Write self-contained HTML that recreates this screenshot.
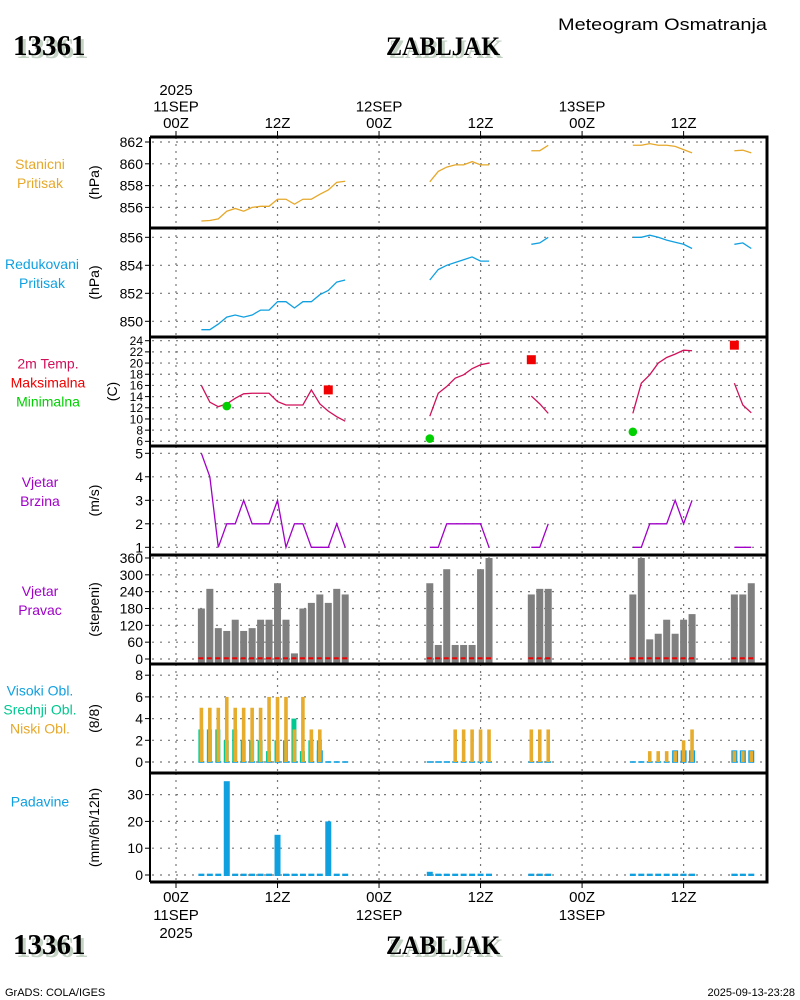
<!DOCTYPE html>
<html><head><meta charset="utf-8"><style>
html,body{margin:0;padding:0;background:#fff}
svg{display:block}
text{font-family:"Liberation Sans",sans-serif}
.tk{font-size:14px;fill:#000}
.ttl{font-family:"Liberation Serif",serif;font-weight:bold;font-size:29px}
.ttl2{font-family:"Liberation Serif",serif;font-weight:bold;font-size:26px}
</style></head><body>
<svg id="chart" width="800" height="1000" viewBox="0 0 800 1000" xmlns="http://www.w3.org/2000/svg">
<rect width="800" height="1000" fill="#fff"/>
<text x="558" y="30" font-size="17" textLength="209" lengthAdjust="spacingAndGlyphs">Meteogram Osmatranja</text>
<g>
<text class="ttl" x="16" y="58" fill="#c4d2c4">13361</text><text class="ttl" x="13" y="55">13361</text>
<text class="ttl2" x="389" y="58" fill="#c4d2c4" textLength="114" lengthAdjust="spacingAndGlyphs">ZABLJAK</text><text class="ttl2" x="386" y="55" textLength="114" lengthAdjust="spacingAndGlyphs">ZABLJAK</text>
</g>
<g>
<text class="ttl" x="16" y="957" fill="#c4d2c4">13361</text><text class="ttl" x="13" y="954">13361</text>
<text class="ttl2" x="389" y="957" fill="#c4d2c4" textLength="114" lengthAdjust="spacingAndGlyphs">ZABLJAK</text><text class="ttl2" x="386" y="954" textLength="114" lengthAdjust="spacingAndGlyphs">ZABLJAK</text>
</g>
<text x="5" y="996" font-size="11">GrADS: COLA/IGES</text>
<text x="795" y="996" font-size="11" text-anchor="end">2025-09-13-23:28</text>
<g id="panels"></g>
</svg>
<script>
const hours = [3,4,5,6,7,8,9,10,11,12,13,14,15,16,17,18,19,20, 30,31,32,33,34,35,36,37, 42,43,44, 54,55,56,57,58,59,60,61, 66,67,68];
const stationPressure = [854.75,854.8,854.95,855.65,855.9,855.65,856.0,856.1,856.1,856.75,856.75,856.3,856.75,856.75,857.2,857.6,858.3,858.4, 858.35,859.3,859.7,859.9,859.9,860.2,859.9,859.9, 861.2,861.2,861.7, 861.7,861.7,861.85,861.7,861.7,861.6,861.3,861.0, 861.2,861.25,861.0];
const reducedPressure = [849.4,849.4,849.8,850.3,850.45,850.3,850.45,850.8,850.8,851.4,851.4,850.95,851.4,851.4,851.9,852.2,852.8,852.95, 852.95,853.7,854.0,854.2,854.4,854.6,854.3,854.3, 855.5,855.6,856.0, 856.0,856.0,856.15,856.0,855.8,855.65,855.5,855.2, 855.5,855.6,855.2];
const temperature = [16,13,12.2,12.7,13.7,14.5,14.6,14.6,14.6,13.1,12.5,12.5,12.5,15.2,12.7,11.4,10.4,9.6, 10.5,14.6,15.8,17.3,17.9,19,19.7,20, 14.1,12.7,11, 11,16.4,17.9,20,21,21.6,22.3,22.2, 16.4,12.5,11.1];
const maxTempHours = [18,42,66];
const maxTempValues = [15.2,20.6,23.2];
const minTempHours = [6,30,54];
const minTempValues = [12.3,6.5,7.7];
const windSpeed = [5,4,1,2,2,3,2,2,2,3,1,2,2,1,1,1,2,1, 1,1,2,2,2,2,2,1, 1,1,2, 1,1,2,2,2,3,2,3, 1,1,1];
const windDir = [180,250,110,100,140,100,110,140,140,270,140,20,180,200,230,200,250,230, 270,50,320,50,50,50,320,360, 230,250,250, 230,360,70,90,140,90,140,160, 230,230,270];
const calmMarker = [2.5,2.5,2.5,2.5,2.5,2.5,2.5,2.5,2.5,2.5,2.5,2.5,2.5,2.5,2.5,2.5,2.5,2.5, 2.5,2.5,2.5,2.5,2.5,2.5,2.5,2.5, 2.5,2.5,2.5, 2.5,2.5,2.5,2.5,2.5,2.5,2.5,2.5, 2.5,2.5,2.5];
const lowCloud = [5,5,5,6,5,5,5,5,6,6,6,3,6,3,3,0,0,0, 0,0,0,3,3,3,3,3, 3,3,3, 0,0,1,1,1,1,2,3, 1,1,1];
const midCloud = [3,3,3,2,3,2,2,2,1,2,2,4,1,2,2,0,0,0, 0,0,0,0,0,0,0,0, 0,0,0, 0,0,0,0,0,0,0,0, 0,0,0];
const highCloud = [0,0,0,0,0,0,0,0,0,0,0,0,0,0,1,0,0,0, 0,0,0,0,0,0,0,0, 0,0,0, 0,0,0,0,0,1,1,1, 1,1,1];
const precip = [0,0,0,35,0,0,0,0,0,15,0,0,0,0,0,20,0,0, 1.2,0,0,0,0,0,0,0, 0,0,0, 0,0,0,0,0,0,0,0, 0,0,0];
const p1Ticks = [862,860,858,856];
const p2Ticks = [856,854,852,850];
const p3Ticks = [24,22,20,18,16,14,12,10,8,6];
const p4Ticks = [5,4,3,2,1];
const p5Ticks = [360,300,240,180,120,60,0];
const p6Ticks = [8,6,4,2,0];
const p7Ticks = [30,20,10,0];
const timeTickHours = [0,12,24,36,48,60];
const timeTop = [["2025","11SEP","00Z"],["12Z"],["12SEP","00Z"],["12Z"],["13SEP","00Z"],["12Z"]];
const timeBottom = [["00Z","11SEP","2025"],["12Z"],["00Z","12SEP"],["12Z"],["00Z","13SEP"],["12Z"]];

const NS="http://www.w3.org/2000/svg";
const root=document.getElementById('panels');
const L=150,R=767;
function mk(tag,attrs,parent){const e=document.createElementNS(NS,tag);for(const k in attrs)e.setAttribute(k,attrs[k]);(parent||root).appendChild(e);return e;}
const xOf=h=>176+h*8.46;
const y1=v=>142+(862-v)*10.9;
const y2=v=>237.3+(856-v)*14;
const y3=v=>340.7+(24-v)*5.59;
const y4=v=>453.3+(5-v)*23.5;
const y5=v=>659-v*0.2806;
const y6=v=>762-v*10.85;
const y7=v=>875-v*2.68;

const panels=[
 {name:'station-pressure',top:137,bot:228,ticks:p1Ticks,y:y1,unit:'(hPa)',labels:[['Stanicni','#e6a82a'],['Pritisak','#e6a82a']]},
 {name:'reduced-pressure',top:228,bot:337,ticks:p2Ticks,y:y2,unit:'(hPa)',labels:[['Redukovani','#10a0e0'],['Pritisak','#10a0e0']]},
 {name:'temperature',top:337,bot:446,ticks:p3Ticks,y:y3,unit:'(C)',labels:[['2m Temp.','#d0105a'],['Maksimalna','#f00000'],['Minimalna','#00d000']],fs:12},
 {name:'wind-speed',top:446,bot:555,ticks:p4Ticks,y:y4,unit:'(m/s)',labels:[['Vjetar','#a000c8'],['Brzina','#a000c8']]},
 {name:'wind-direction',top:555,bot:664,ticks:p5Ticks,y:y5,unit:'(stepeni)',labels:[['Vjetar','#a000c8'],['Pravac','#a000c8']]},
 {name:'cloud-cover',top:664,bot:773,ticks:p6Ticks,y:y6,unit:'(8/8)',labels:[['Visoki Obl.','#10a0e0'],['Srednji Obl.','#00c890'],['Niski Obl.','#e6a82a']]},
 {name:'precipitation',top:773,bot:882,ticks:p7Ticks,y:y7,unit:'(mm/6h/12h)',labels:[['Padavine','#10a0e0']]}
];
panels.forEach((p,pi)=>{
 const g=mk('g',{});
 
 
 timeTickHours.forEach(h=>{const l=mk('line',{x1:xOf(h),x2:xOf(h),y1:p.top,y2:p.bot,stroke:'#777','stroke-width':1.2,'stroke-dasharray':'2,5'},g);
  
  });
 const fs=p.fs||14;
 p.ticks.forEach(t=>{const yy=p.y(t);
  const l=mk('line',{x1:L+2,x2:R,y1:yy,y2:yy,stroke:'#777','stroke-width':1.2,'stroke-dasharray':'2,6'},g);
  
  
  mk('line',{x1:L-5,x2:L,y1:yy,y2:yy,stroke:'#000'},g);
  const tx=mk('text',{x:L-7,y:yy+(fs*0.36),'text-anchor':'end','font-size':fs},g);
  tx.textContent=t;
  
  });
 const mid=(p.top+p.bot)/2;
 const ut=mk('text',{x:0,y:0,'font-size':14,'text-anchor':'middle',transform:`translate(${pi==2?117:99},${mid}) rotate(-90)`},g);
 ut.textContent=p.unit;
 
 
 const n=p.labels.length;
 p.labels.forEach((lb,i)=>{const tx=mk('text',{x:pi==2?48:(pi==1?42:40),y:mid-(n-1)*9.5+i*19-13+(n==1?-8:9),'font-size':14,'text-anchor':'middle',fill:lb[1]},g);
  tx.textContent=lb[0];
  
  });
});

function segs(vals,yf){const out=[];let cur=[];hours.forEach((h,i)=>{if(cur.length&&h-hours[i-1]>1){out.push(cur);cur=[];}cur.push([xOf(h),yf(vals[i])]);});out.push(cur);return out;}
function drawLine(vals,yf,color,name){segs(vals,yf).forEach(s=>{const pl=mk('polyline',{points:s.map(p=>p.join(',')).join(' '),fill:'none',stroke:color,'stroke-width':1.3});
 
 });}
drawLine(stationPressure,y1,'#e6a82a','station-pressure-line');
drawLine(reducedPressure,y2,'#10a0e0','reduced-pressure-line');
drawLine(temperature,y3,'#d0105a','temperature-line');
drawLine(windSpeed,y4,'#a000c8','wind-speed-line');
maxTempHours.forEach((h,i)=>{const r=mk('rect',{x:xOf(h)-4.5,y:y3(maxTempValues[i])-4.5,width:9,height:9,fill:'#f00000'});
 
 });
minTempHours.forEach((h,i)=>{const c=mk('circle',{cx:xOf(h),cy:y3(minTempValues[i]),r:4.3,fill:'#00d000'});
 
 });
hours.forEach((h,i)=>{const x=xOf(h);
 const b=mk('rect',{x:x-3.5,y:y5(windDir[i]),width:7,height:y5(0)-y5(windDir[i])+4,fill:'#7f7f7f'});
 
 
 const c=mk('line',{x1:x-3,x2:x+2,y1:y5(calmMarker[i]),y2:y5(calmMarker[i]),stroke:'#f00000','stroke-width':2});
 
 
 const hb=mk('rect',{x:x-3,y:y6(highCloud[i])-0.8,width:6,height:y6(0)-y6(highCloud[i])+1.6,fill:'#10a0e0'});
 
 
 if(midCloud[i]>0){const mb=mk('rect',{x:x-3,y:y6(midCloud[i]),width:5,height:y6(0)-y6(midCloud[i]),fill:'#00c890'});
 
 }
 if(lowCloud[i]>0){const lb=mk('rect',{x:x-1.8,y:y6(lowCloud[i]),width:3.6,height:y6(0)-y6(lowCloud[i]),fill:'#e6ac2e'});
 
 }
 const pv=Math.max(precip[i],0.5);
 const pb=mk('rect',{x:x-3,y:y7(pv),width:6,height:y7(0)-y7(pv)+1,fill:'#10a0e0'});
 
 
});
[137,228,337,446,555,664,773,882].forEach(yy=>{const l=mk('line',{x1:L,x2:R+1.5,y1:yy,y2:yy,stroke:'#000','stroke-width':3});
 
 });
const fl=mk('line',{x1:L,x2:L,y1:137,y2:882,stroke:'#000','stroke-width':2});


const fr=mk('line',{x1:R,x2:R,y1:137,y2:882,stroke:'#000','stroke-width':3});


timeTickHours.forEach((h,i)=>{const x=xOf(h);
 mk('line',{x1:x,x2:x,y1:131,y2:137,stroke:'#000'});
 mk('line',{x1:x,x2:x,y1:882,y2:888,stroke:'#000'});
 const top=timeTop[i];
 top.forEach((s,j)=>{const t=mk('text',{x:x,y:128-(top.length-1-j)*16.5,'text-anchor':'middle','font-size':15});
  t.textContent=s;
  
  });
 timeBottom[i].forEach((s,j)=>{const t=mk('text',{x:x,y:902+j*18,'text-anchor':'middle','font-size':15});
  t.textContent=s;
  
  });
});
</script>
</body></html>
